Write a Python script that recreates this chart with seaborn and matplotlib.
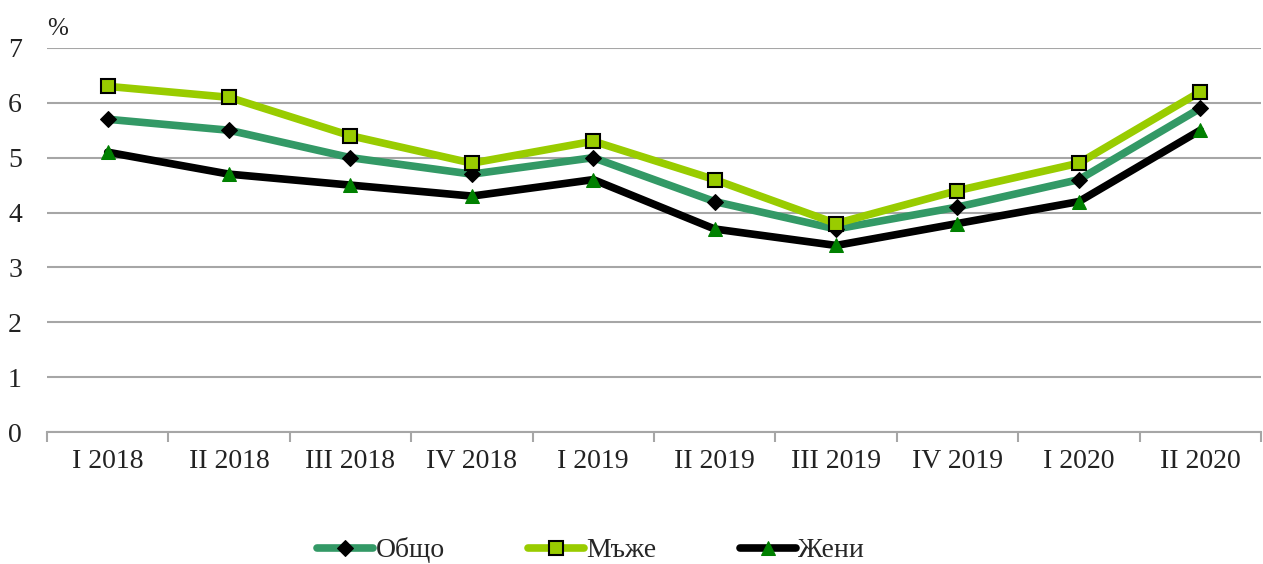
import pandas as pd
import seaborn as sns
import matplotlib.pyplot as plt
from matplotlib.ticker import FixedLocator

# Data (%)
quarters = ["I 2018", "II 2018", "III 2018", "IV 2018", "I 2019",
            "II 2019", "III 2019", "IV 2019", "I 2020", "II 2020"]
total = [5.7, 5.5, 5.0, 4.7, 5.0, 4.2, 3.7, 4.1, 4.6, 5.9]
men = [6.3, 6.1, 5.4, 4.9, 5.3, 4.6, 3.8, 4.4, 4.9, 6.2]
women = [5.1, 4.7, 4.5, 4.3, 4.6, 3.7, 3.4, 3.8, 4.2, 5.5]

sns.set_theme(style="white")
plt.rcParams['font.family'] = ['Liberation Serif', 'DejaVu Serif']

fig = plt.figure(figsize=(12.63, 5.64), dpi=100)
ax = fig.add_axes([0.0372, 0.234, 0.9612, 0.681])

df = pd.DataFrame({"q": quarters, "Общо": total, "Мъже": men, "Жени": women})

# Общо
sns.lineplot(data=df, x="q", y="Общо", ax=ax, sort=False, color="#339966",
             linewidth=5.5, marker="D", markersize=8, markerfacecolor="black",
             markeredgecolor="black", label="Общо", zorder=3)
# Мъже
sns.lineplot(data=df, x="q", y="Мъже", ax=ax, sort=False, color="#99CC00",
             linewidth=5.5, marker="s", markersize=10, markerfacecolor="#99CC00",
             markeredgecolor="black", markeredgewidth=1.5, label="Мъже", zorder=3)
# Жени
sns.lineplot(data=df, x="q", y="Жени", ax=ax, sort=False, color="black",
             linewidth=5.5, marker="^", markersize=10, markerfacecolor="#008000",
             markeredgecolor="#008000", label="Жени", zorder=3)

ax.set_xlim(-0.5, len(quarters) - 0.5)
ax.set_ylim(0, 7)
ax.set_yticks(range(0, 8))
ax.yaxis.grid(True, color="#A6A6A6", linewidth=1.5)
ax.set_axisbelow(True)

for s in ["top", "right", "left"]:
    ax.spines[s].set_visible(False)
ax.spines["bottom"].set_color("#A6A6A6")
ax.spines["bottom"].set_linewidth(1.5)

ax.set_xlabel("")
ax.set_ylabel("")
ax.tick_params(axis="x", which="major", length=0, labelsize=20, pad=12)
ax.tick_params(axis="y", length=0, labelsize=20, pad=18)
ax.xaxis.set_minor_locator(FixedLocator([i - 0.5 for i in range(len(quarters) + 1)]))
ax.tick_params(axis="x", which="minor", bottom=True, length=7, width=1.5, color="#A6A6A6")
for lbl in ax.get_yticklabels() + ax.get_xticklabels():
    lbl.set_color("#222222")

ax.text(0.0, 1.02, "%", transform=ax.transAxes, fontsize=18, color="#222222",
        ha="left", va="bottom")

ax.legend(loc="center", bbox_to_anchor=(0.448, -0.308), ncol=3, frameon=False,
          fontsize=20, handlelength=2.0, handletextpad=0.1, columnspacing=3.0,
          borderpad=0.1)

fig.savefig("out.png", dpi=100)
